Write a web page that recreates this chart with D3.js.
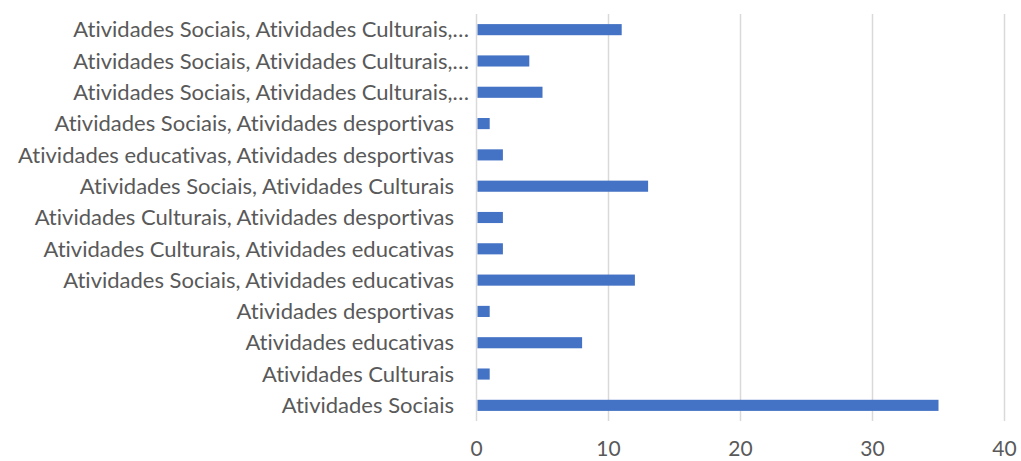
<!DOCTYPE html>
<html>
<head>
<meta charset="utf-8">
<script src="https://cdn.jsdelivr.net/npm/d3@7"></script>
<style>
  body { margin: 0; background: #fff; }
  svg text {
    font-family: Lato, "Open Sans", sans-serif;
    fill: #595959;
    font-variant-ligatures: none;
    font-feature-settings: "liga" 0, "clig" 0;
  }
</style>
</head>
<body>
<svg id="chart" width="1021" height="461"></svg>
<script>
// Categories listed bottom to top as they appear on the axis
const categories = [
  "Atividades Sociais",
  "Atividades Culturais",
  "Atividades educativas",
  "Atividades desportivas",
  "Atividades Sociais, Atividades educativas",
  "Atividades Culturais, Atividades educativas",
  "Atividades Culturais, Atividades desportivas",
  "Atividades Sociais, Atividades Culturais",
  "Atividades educativas, Atividades desportivas",
  "Atividades Sociais, Atividades desportivas",
  "Atividades Sociais, Atividades Culturais, Atividades educativas",
  "Atividades Sociais, Atividades Culturais, Atividades desportivas",
  "Atividades Sociais, Atividades Culturais, Atividades educativas, Atividades desportivas"
];
const labels = [
  "Atividades Sociais",
  "Atividades Culturais",
  "Atividades educativas",
  "Atividades desportivas",
  "Atividades Sociais, Atividades educativas",
  "Atividades Culturais, Atividades educativas",
  "Atividades Culturais, Atividades desportivas",
  "Atividades Sociais, Atividades Culturais",
  "Atividades educativas, Atividades desportivas",
  "Atividades Sociais, Atividades desportivas",
  "Atividades Sociais, Atividades Culturais,…",
  "Atividades Sociais, Atividades Culturais,…",
  "Atividades Sociais, Atividades Culturais,…"
];
const values = [35, 1, 8, 1, 12, 2, 2, 13, 2, 1, 5, 4, 11];
const xTicks = [0, 10, 20, 30, 40];

const svg = d3.select("#chart");
const plotLeft = 476.5, plotRight = 1004.5, plotTop = 14, plotBottom = 421;

const x = d3.scaleLinear().domain([0, 40]).range([plotLeft, plotRight]);
const y = d3.scaleBand()
  .domain(categories.slice().reverse())
  .range([plotTop, plotBottom])
  .paddingInner(0.645)
  .paddingOuter(0.3225);

// vertical gridlines
svg.append("g")
  .selectAll("line")
  .data(xTicks)
  .join("line")
  .attr("x1", d => x(d)).attr("x2", d => x(d))
  .attr("y1", plotTop).attr("y2", plotBottom)
  .attr("stroke", "#d9d9d9")
  .attr("stroke-width", 1.5);

// bars
svg.append("g")
  .selectAll("rect")
  .data(categories)
  .join("rect")
  .attr("x", x(0) + 1)
  .attr("y", d => y(d))
  .attr("width", (d, i) => x(values[i]) - x(0) - 1)
  .attr("height", y.bandwidth())
  .attr("fill", "#4472C4");

// category labels (truncated ones sit slightly further right)
svg.append("g")
  .selectAll("text")
  .data(categories)
  .join("text")
  .attr("x", (d, i) => labels[i].endsWith("…") ? 469 : 454)
  .attr("y", d => y(d) + y.bandwidth() / 2)
  .attr("dy", "0.35em")
  .attr("text-anchor", "end")
  .attr("font-size", 22)
  .text((d, i) => labels[i]);

// x tick labels
svg.append("g")
  .selectAll("text")
  .data(xTicks)
  .join("text")
  .attr("x", d => x(d))
  .attr("y", 449)
  .attr("dy", "0.35em")
  .attr("text-anchor", "middle")
  .attr("font-size", 21)
  .text(d => d);
</script>
</body>
</html>
